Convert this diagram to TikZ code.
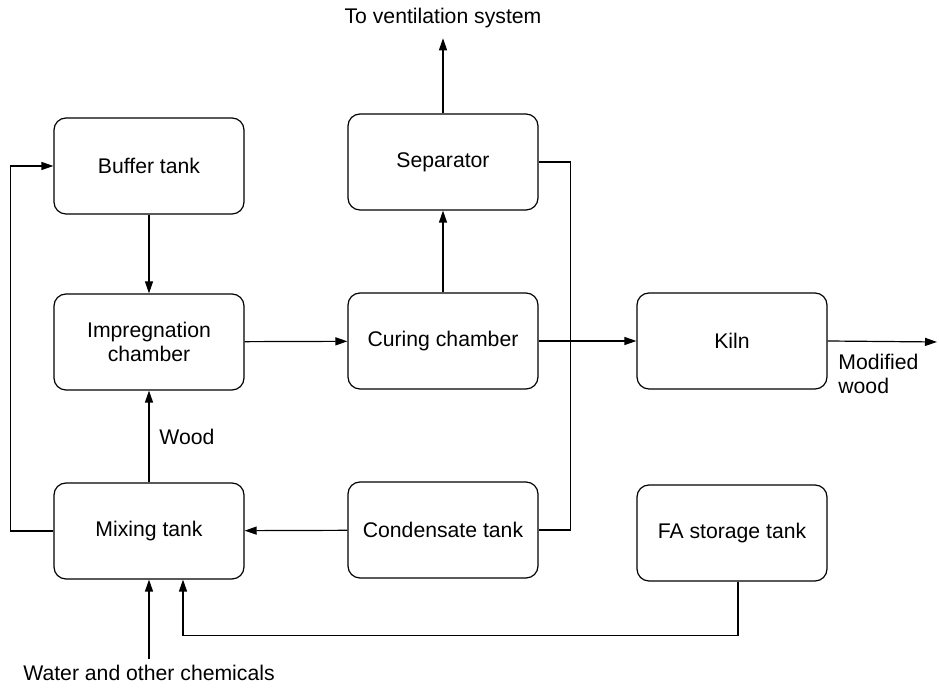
\documentclass[tikz,border=0pt]{standalone}
\usepackage{fontspec}
\setmainfont{Liberation Sans}
\usetikzlibrary{arrows.meta,calc}
\begin{document}
\begin{tikzpicture}[x=0.5pt,y=-0.5pt,
  every node/.style={font=\fontsize{10.6}{12}\selectfont},
  unit/.style={draw, line width=0.6pt, rounded corners=6pt,
    minimum width=95pt, minimum height=48pt, align=center, inner sep=2pt},
  flow/.style={line width=0.6pt, -{Triangle[length=6pt,width=4pt]}},
  pipe/.style={line width=0.6pt},
  lbl/.style={inner sep=0pt}]
\useasboundingbox (0,0) rectangle (939,688);

% process units
\node[unit] (buffer) at (149,166) {Buffer tank};
\node[unit] (impreg) at (149,342) {Impregnation\\chamber};
\node[unit] (mixing) at (149,531) {Mixing tank};
\node[unit] (separator) at (443,162) {Separator};
\node[unit] (curing) at (443,341) {Curing chamber};
\node[unit] (condensate) at (443,530) {Condensate tank};
\node[unit] (kiln) at (732,341) {Kiln};
\node[unit] (fa) at (732,533) {FA storage tank};

% free labels
\node[lbl] (vent) at (443,18) {To ventilation system};
\node[lbl, anchor=west, align=left] (modified) at (838,374) {Modified\\wood};
\node[lbl, anchor=west] (wood) at (159,437) {Wood};
\node[lbl] (water) at (149,673) {Water and other chemicals};
\coordinate (out) at (937,342);

% main flow
\draw[flow] (buffer) -- (impreg);
\draw[flow] (impreg) -- (curing);
\draw[flow] (curing) -- (separator);
\draw[flow] (separator.north) -- ([yshift=-5pt]vent.south);
\draw[flow] (curing) -- (kiln);
\draw[flow] (kiln.east) -- (out);
\draw[flow] (mixing) -- (impreg);
\draw[flow] (condensate) -- (mixing);

% condensate return from separator
\draw[pipe] (separator.east) -- ++(32,0) |- (condensate.east);

% recirculation to buffer tank
\draw[flow] (mixing.west) -- ++(-43,0) |- (buffer.west);

% FA feed
\draw[flow] ([xshift=3pt]fa.south) -- ++(0,54) -| ($(mixing.south)+(34,0)$);

% water and chemicals feed
\draw[flow] ([yshift=3pt]water.north) -- (mixing.south);
\end{tikzpicture}
\end{document}
